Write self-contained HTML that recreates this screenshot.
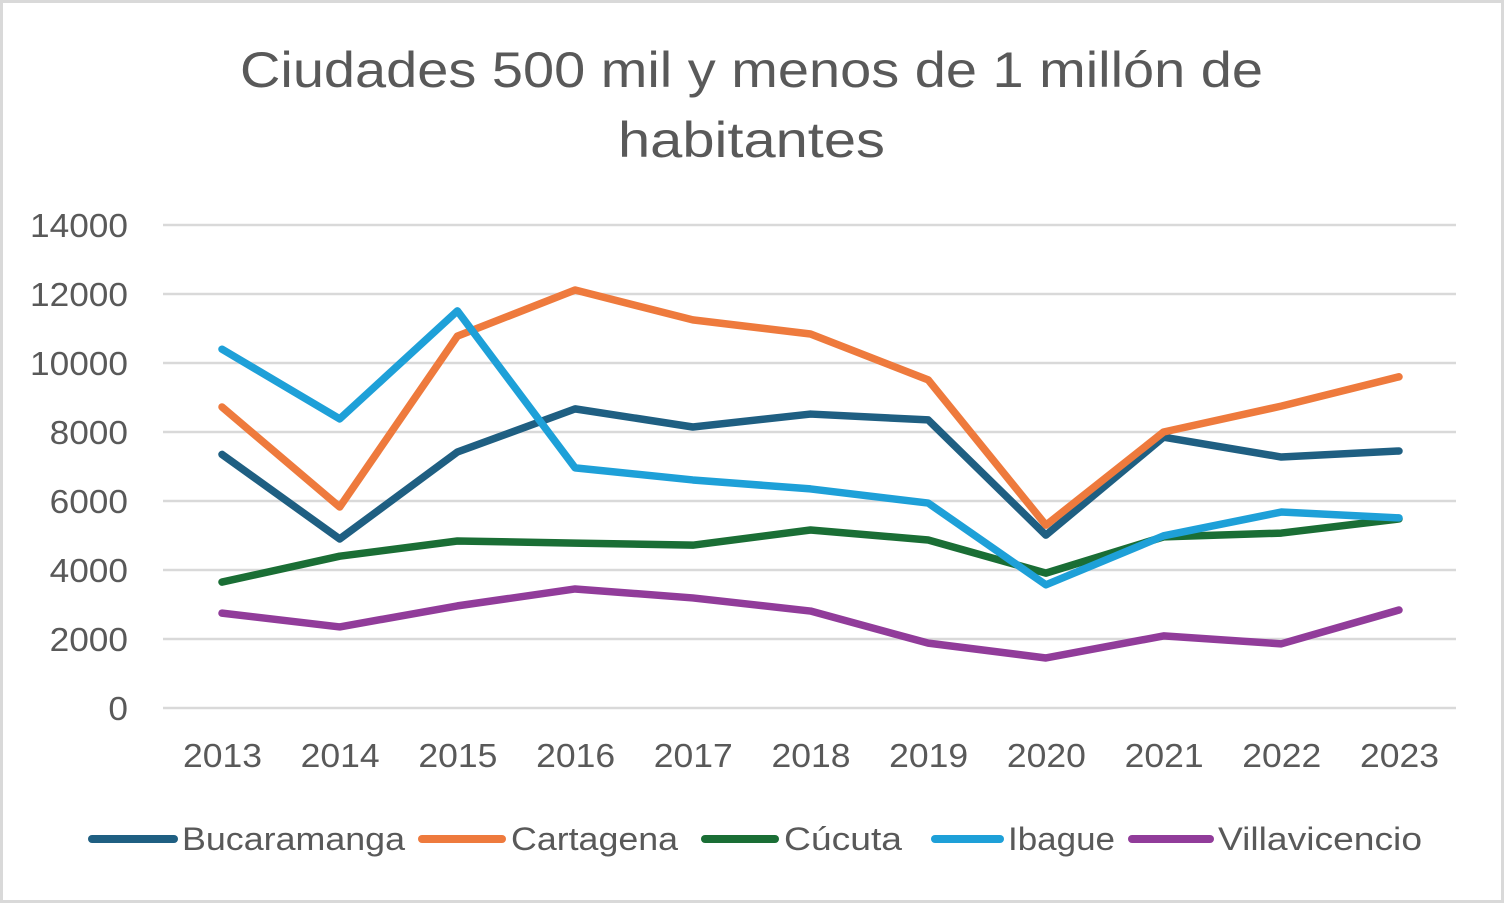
<!DOCTYPE html>
<html><head><meta charset="utf-8"><style>
html,body{margin:0;padding:0;background:#fff;}
svg{display:block;font-family:"Liberation Sans",sans-serif;}
</style></head><body>
<svg width="1504" height="903">
<rect x="1.5" y="1.5" width="1501" height="900" fill="#fff" stroke="#d9d9d9" stroke-width="3"/>
<text x="240" y="87" font-size="50" fill="#595959" textLength="1023" lengthAdjust="spacingAndGlyphs">Ciudades 500 mil y menos de 1 millón de</text>
<text x="618" y="157" font-size="50" fill="#595959" textLength="267" lengthAdjust="spacingAndGlyphs">habitantes</text>
<g id="grid"></g><g id="xl"></g><g id="series"></g><g id="legend"></g>
</svg>
<script>
const years=["2013","2014","2015","2016","2017","2018","2019","2020","2021","2022","2023"];
const yTicks=[0,2000,4000,6000,8000,10000,12000,14000];
const seriesNames=["Bucaramanga","Cartagena","Cúcuta","Ibague","Villavicencio"];
const seriesColors=["#1f5f82","#ee7a3d","#1a6e35","#1ea0d8","#913c9a"];
const bucaramanga=[7350,4900,7420,8670,8145,8520,8350,5010,7850,7275,7450];
const cartagena=[8725,5825,10780,12115,11250,10840,9510,5300,8000,8750,9600];
const cucuta=[3650,4400,4840,4780,4720,5160,4870,3910,4960,5070,5480];
const ibague=[10400,8380,11510,6960,6610,6350,5940,3570,4990,5680,5510];
const villavicencio=[2750,2350,2960,3450,3190,2810,1880,1450,2090,1860,2840];
const allSeries=[bucaramanga,cartagena,cucuta,ibague,villavicencio];
const NS="http://www.w3.org/2000/svg";
const x0=222,x1=1399,yZero=708,yTop=225,left=163,right=1456;
const xs=i=>x0+i*(x1-x0)/(years.length-1);
const ys=v=>yZero-(v/14000)*(yZero-yTop);
function mk(t,a,p){const e=document.createElementNS(NS,t);for(const k in a)e.setAttribute(k,a[k]);p.appendChild(e);return e;}
const g=document.getElementById('grid');
yTicks.forEach(v=>{
 const l=mk('line',{x1:left,x2:right,y1:ys(v),y2:ys(v),stroke:'#d9d9d9','stroke-width':2.5},g);
 
 
 const t=mk('text',{x:128,y:ys(v)+12,'text-anchor':'end','font-size':33,fill:'#595959',textLength:String(v).length*19.6,lengthAdjust:'spacingAndGlyphs'},g);
 t.textContent=v;
 
 
});
const xl=document.getElementById('xl');
years.forEach((y,i)=>{
 const t=mk('text',{x:xs(i)-39,y:767,'font-size':33,fill:'#595959',textLength:79,lengthAdjust:'spacingAndGlyphs'},xl);
 t.textContent=y;
 
 
});
const sg=document.getElementById('series');
allSeries.forEach((d,si)=>{
 const p=mk('polyline',{points:d.map((v,i)=>xs(i)+','+ys(v)).join(' '),fill:'none',stroke:seriesColors[si],'stroke-width':7.5,'stroke-linejoin':'round','stroke-linecap':'round'},sg);
 
 
});
const lg=document.getElementById('legend');
const legLine=[[92,174],[422,502],[705,775],[935,1000],[1132,1210]];
const legText=[[182,223],[511,167],[784,118],[1008,107],[1218,204]];
seriesNames.forEach((n,i)=>{
 const l=mk('line',{x1:legLine[i][0],x2:legLine[i][1],y1:839,y2:839,stroke:seriesColors[i],'stroke-width':8,'stroke-linecap':'round'},lg);
 
 
 const t=mk('text',{x:legText[i][0],y:850,'font-size':32,fill:'#595959',textLength:legText[i][1],lengthAdjust:'spacingAndGlyphs'},lg);
 t.textContent=n;
 
 
});
</script>
</body></html>
